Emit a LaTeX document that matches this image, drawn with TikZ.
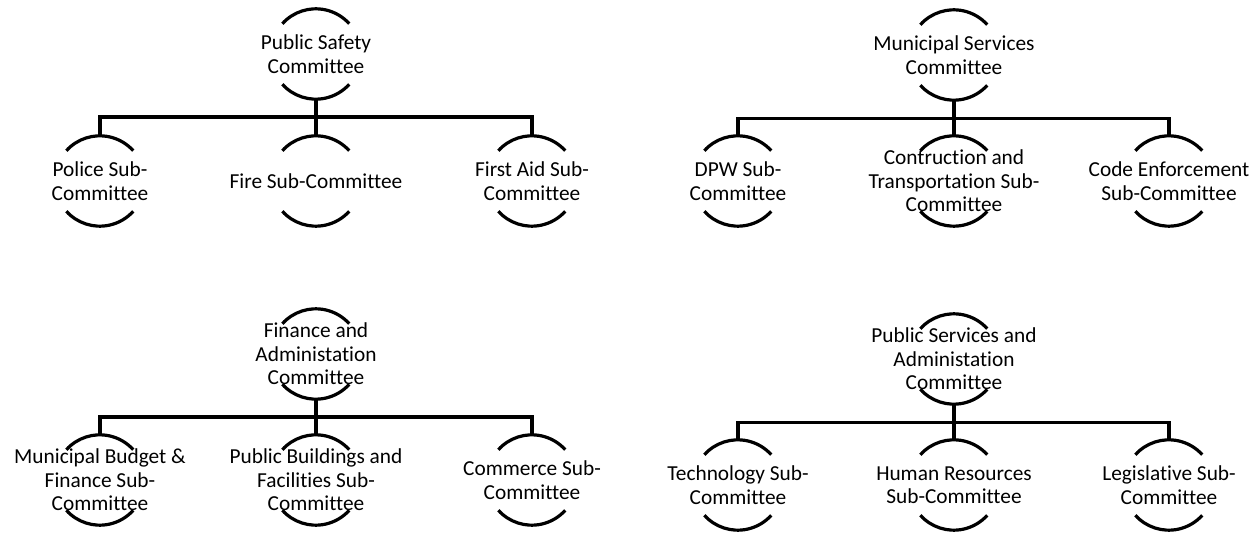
\documentclass[tikz,border=0pt]{standalone}
\usepackage{fontspec}
\setmainfont{Carlito}[Ligatures=NoCommon]
\begin{document}
\begin{tikzpicture}[x=0.75pt,y=-0.75pt,
  disc/.style={circle,minimum size=67.5pt,inner sep=0pt},
  lbl/.style={align=center,inner sep=0pt,font=\fontsize{16pt}{17.6pt}\selectfont},
  arcline/.style={line width=2.4pt},
  conn/.style={line width=2.4pt}]
\useasboundingbox[fill=white] (0,0) rectangle (1260,534);
\newcommand\orgunit[4]{%
  \node[disc] (#1) at (#2,#3) {};
  \draw[arcline] (#1.138) arc[start angle=138,end angle=42,radius=33.75pt];
  \draw[arcline] (#1.-138) arc[start angle=-138,end angle=-42,radius=33.75pt];
  \node[lbl] (#1t) at (#1) {#4};}
% Top-left
\orgunit{ps}{316}{54}{Public Safety\\Committee}
\orgunit{ps1}{100}{181}{Police Sub-\\Committee}
\orgunit{ps2}{316}{181}{Fire Sub-Committee}
\orgunit{ps3}{532}{181}{First Aid Sub-\\Committee}
\coordinate (psb) at (316,117);
\draw[conn] (ps1.north) |- (psb) -| (ps3.north);
\draw[conn] (ps.south) -- (ps2.north);
% Top-right
\orgunit{ms}{954}{55}{Municipal Services\\Committee}
\orgunit{ms1}{738}{181}{DPW Sub-\\Committee}
\orgunit{ms2}{954}{181}{Contruction and\\Transportation Sub-\\Committee}
\orgunit{ms3}{1169}{181}{Code Enforcement\\Sub-Committee}
\coordinate (msb) at (954,118.5);
\draw[conn] (ms1.north) |- (msb) -| (ms3.north);
\draw[conn] (ms.south) -- (ms2.north);
% Bottom-left
\orgunit{fa}{316}{354}{Finance and\\Administation\\Committee}
\orgunit{fa1}{100}{480}{Municipal Budget \&\\Finance Sub-\\Committee}
\orgunit{fa2}{316}{480}{Public Buildings and\\Facilities Sub-\\Committee}
\orgunit{fa3}{532}{480}{Commerce Sub-\\Committee}
\coordinate (fab) at (316,417);
\draw[conn] (fa1.north) |- (fab) -| (fa3.north);
\draw[conn] (fa.south) -- (fa2.north);
% Bottom-right
\orgunit{pa}{954}{359}{Public Services and\\Administation\\Committee}
\orgunit{pa1}{738}{485}{Technology Sub-\\Committee}
\orgunit{pa2}{954}{485}{Human Resources\\Sub-Committee}
\orgunit{pa3}{1169}{485}{Legislative Sub-\\Committee}
\coordinate (pab) at (954,422.5);
\draw[conn] (pa1.north) |- (pab) -| (pa3.north);
\draw[conn] (pa.south) -- (pa2.north);
\end{tikzpicture}
\end{document}
